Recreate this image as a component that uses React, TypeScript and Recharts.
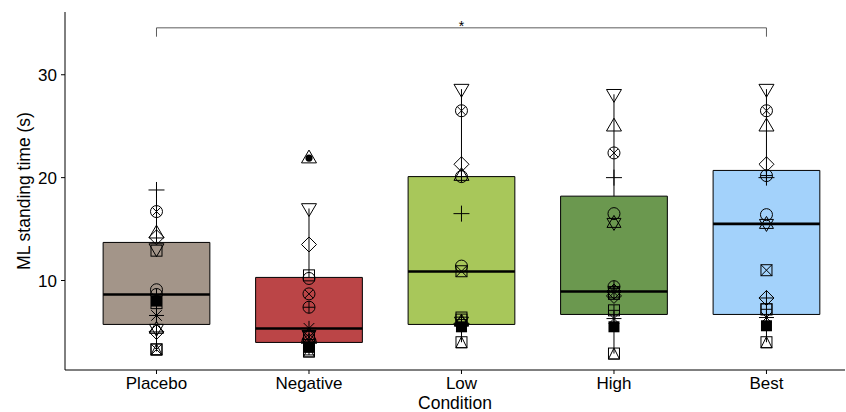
import React from "react";
import {
  ComposedChart,
  ReferenceArea,
  ReferenceLine,
  Scatter,
  XAxis,
  YAxis,
} from "recharts";

const conditions = ["Placebo", "Negative", "Low", "High", "Best"];
const boxColors = ["#a39589", "#bb4547", "#a8c75a", "#6b984f", "#a3d2fb"];

// box summary
const q1 = [5.73, 3.98, 5.73, 6.7, 6.7];
const medians = [8.64, 5.34, 10.87, 8.93, 15.5];
const q3 = [13.7, 10.3, 20.1, 18.2, 20.7];
const whiskerLow = [3.1, 3.0, 4.0, 2.9, 4.0];
const whiskerHigh = [18.8, 17.0, 28.6, 28.1, 28.6];
const outlierCond = [2];
const outlierValue = [21.9];

// one shape per subject (ggplot pch codes)
const subjectShapes = [0, 1, 2, 3, 5, 6, 7, 8, 9, 10, 11, 12, 13, 14, 15];
const placebo = [12.9, 9.1, 14.6, 18.8, 14.2, 13.1, 3.3, 6.6, 5.0, 8.64, 5.3, 7.8, 16.7, 3.3, 8.0];
const negative = [10.5, 10.2, 21.9, 3.9, 13.5, 17.0, 4.5, 5.35, 4.1, 7.4, 4.7, 3.3, 8.7, 3.1, 3.5];
const low = [6.4, 11.4, 20.2, 16.5, 21.3, 28.6, 10.9, 5.6, 5.8, 20.1, 6.0, 6.2, 26.5, 4.0, 5.5];
const high = [8.7, 16.5, 25.0, 20.0, 8.5, 28.1, 8.85, 6.3, 8.93, 9.4, 15.6, 7.1, 22.4, 2.9, 5.5];
const best = [7.2, 16.4, 25.0, 20.0, 21.3, 28.6, 11.0, 6.4, 8.3, 20.2, 15.5, 7.2, 26.5, 4.0, 5.6];

const bracketY = 34.56;
const bracketTickY = 33.7;

const seriesByCondition = [placebo, negative, low, high, best];
const points = seriesByCondition.flatMap((vals, ci) =>
  vals.map((y, si) => ({ x: ci + 1, y, shape: subjectShapes[si] }))
);
const outlierPoints = outlierCond.map((c, i) => ({ x: c, y: outlierValue[i] }));

const st = { fill: "none", stroke: "#000", strokeWidth: 1 };

const glyph = (k: number, x: number, y: number) => {
  const s = 5.5;
  const sq = <rect x={x - s} y={y - s} width={2 * s} height={2 * s} {...st} />;
  const circ = <circle cx={x} cy={y} r={6} {...st} />;
  const plus = (d: number) => (
    <path d={`M${x - d},${y}H${x + d}M${x},${y - d}V${y + d}`} {...st} />
  );
  const cross = (d: number) => (
    <path d={`M${x - d},${y - d}L${x + d},${y + d}M${x - d},${y + d}L${x + d},${y - d}`} {...st} />
  );
  const triUp = (h: number, w: number) => (
    <polygon points={`${x},${y - h} ${x - w},${y + h * 0.6} ${x + w},${y + h * 0.6}`} {...st} />
  );
  const triDown = (h: number, w: number) => (
    <polygon points={`${x},${y + h} ${x - w},${y - h * 0.6} ${x + w},${y - h * 0.6}`} {...st} />
  );
  const diamond = <polygon points={`${x},${y - 7.5} ${x + 7.5},${y} ${x},${y + 7.5} ${x - 7.5},${y}`} {...st} />;
  switch (k) {
    case 0:
      return sq;
    case 1:
      return circ;
    case 2:
      return triUp(8, 7.5);
    case 3:
      return plus(8);
    case 5:
      return diamond;
    case 6:
      return triDown(8, 7.5);
    case 7:
      return <>{sq}{cross(s)}</>;
    case 8:
      return <>{plus(7.5)}{cross(5.3)}</>;
    case 9:
      return <>{diamond}{plus(7.5)}</>;
    case 10:
      return <>{circ}{plus(6)}</>;
    case 11:
      return <>{triUp(7.5, 7)}{triDown(7.5, 7)}</>;
    case 12:
      return <>{sq}{plus(s)}</>;
    case 13:
      return <>{circ}{cross(4.2)}</>;
    case 14:
      return (
        <>
          {sq}
          <polygon points={`${x},${y - s} ${x - s},${y + s} ${x + s},${y + s}`} {...st} />
        </>
      );
    case 15:
      return <rect x={x - s} y={y - s} width={2 * s} height={2 * s} fill="#000" />;
    default:
      return circ;
  }
};

const renderGlyph = (props: any) => {
  const { cx, cy, payload } = props;
  return <g>{glyph(payload.shape, cx, cy)}</g>;
};

const renderOutlier = (props: any) => (
  <circle cx={props.cx} cy={props.cy} r={3.6} fill="#000" />
);

const font = "'Liberation Sans', Arial, sans-serif";
const tickStyle = { fill: "#000", fontSize: 17, fontFamily: font };
const titleStyle = { fill: "#000", fontSize: 17.5, fontFamily: font };

export default function App() {
  return (
    <div style={{ position: "absolute", left: 0, top: 0, background: "#fff" }}>
      <ComposedChart
        width={846}
        height={412}
        margin={{ top: 12, right: 1, bottom: 0, left: 0 }}
      >
        <XAxis
          type="number"
          dataKey="x"
          domain={[0.4, 5.515]}
          ticks={[1, 2, 3, 4, 5]}
          allowDataOverflow
          tickFormatter={(v: number) => conditions[v - 1]}
          tick={tickStyle}
          tickSize={4}
          tickMargin={3}
          height={42}
          axisLine={{ stroke: "#000", strokeWidth: 1 }}
          tickLine={{ stroke: "#000" }}
          label={{
            value: "Condition",
            position: "insideBottom",
            offset: 3,
            style: titleStyle,
          }}
        />
        <YAxis
          type="number"
          dataKey="y"
          domain={[1.3, 36.1]}
          ticks={[10, 20, 30]}
          allowDataOverflow
          tick={tickStyle}
          tickSize={4}
          tickMargin={4}
          width={65}
          axisLine={{ stroke: "#000", strokeWidth: 1 }}
          tickLine={{ stroke: "#000" }}
          label={{
            value: "ML standing time (s)",
            angle: -90,
            position: "insideLeft",
            offset: 24,
            style: { ...titleStyle, textAnchor: "middle" },
          }}
        />
        {conditions.map((c, i) => (
          <ReferenceLine
            key={`wl-${c}`}
            segment={[
              { x: i + 1, y: whiskerLow[i] },
              { x: i + 1, y: q1[i] },
            ]}
            stroke="#000"
            strokeWidth={1}
          />
        ))}
        {conditions.map((c, i) => (
          <ReferenceLine
            key={`wh-${c}`}
            segment={[
              { x: i + 1, y: q3[i] },
              { x: i + 1, y: whiskerHigh[i] },
            ]}
            stroke="#000"
            strokeWidth={1}
          />
        ))}
        {conditions.map((c, i) => (
          <ReferenceArea
            key={`box-${c}`}
            x1={i + 1 - 0.35}
            x2={i + 1 + 0.35}
            y1={q1[i]}
            y2={q3[i]}
            fill={boxColors[i]}
            fillOpacity={1}
            stroke="#000"
            strokeWidth={1}
          />
        ))}
        {conditions.map((c, i) => (
          <ReferenceLine
            key={`med-${c}`}
            segment={[
              { x: i + 1 - 0.35, y: medians[i] },
              { x: i + 1 + 0.35, y: medians[i] },
            ]}
            stroke="#000"
            strokeWidth={2.6}
          />
        ))}
        <Scatter data={outlierPoints} shape={renderOutlier} isAnimationActive={false} />
        <Scatter data={points} shape={renderGlyph} isAnimationActive={false} />
        <ReferenceLine
          segment={[
            { x: 1, y: bracketY },
            { x: 5, y: bracketY },
          ]}
          stroke="#333"
          strokeWidth={0.8}
          label={{ value: "*", position: "top", offset: -3, style: { fill: "#000", fontSize: 14, fontFamily: font } }}
        />
        <ReferenceLine
          segment={[
            { x: 1, y: bracketTickY },
            { x: 1, y: bracketY },
          ]}
          stroke="#333"
          strokeWidth={0.8}
        />
        <ReferenceLine
          segment={[
            { x: 5, y: bracketTickY },
            { x: 5, y: bracketY },
          ]}
          stroke="#333"
          strokeWidth={0.8}
        />
      </ComposedChart>
    </div>
  );
}
